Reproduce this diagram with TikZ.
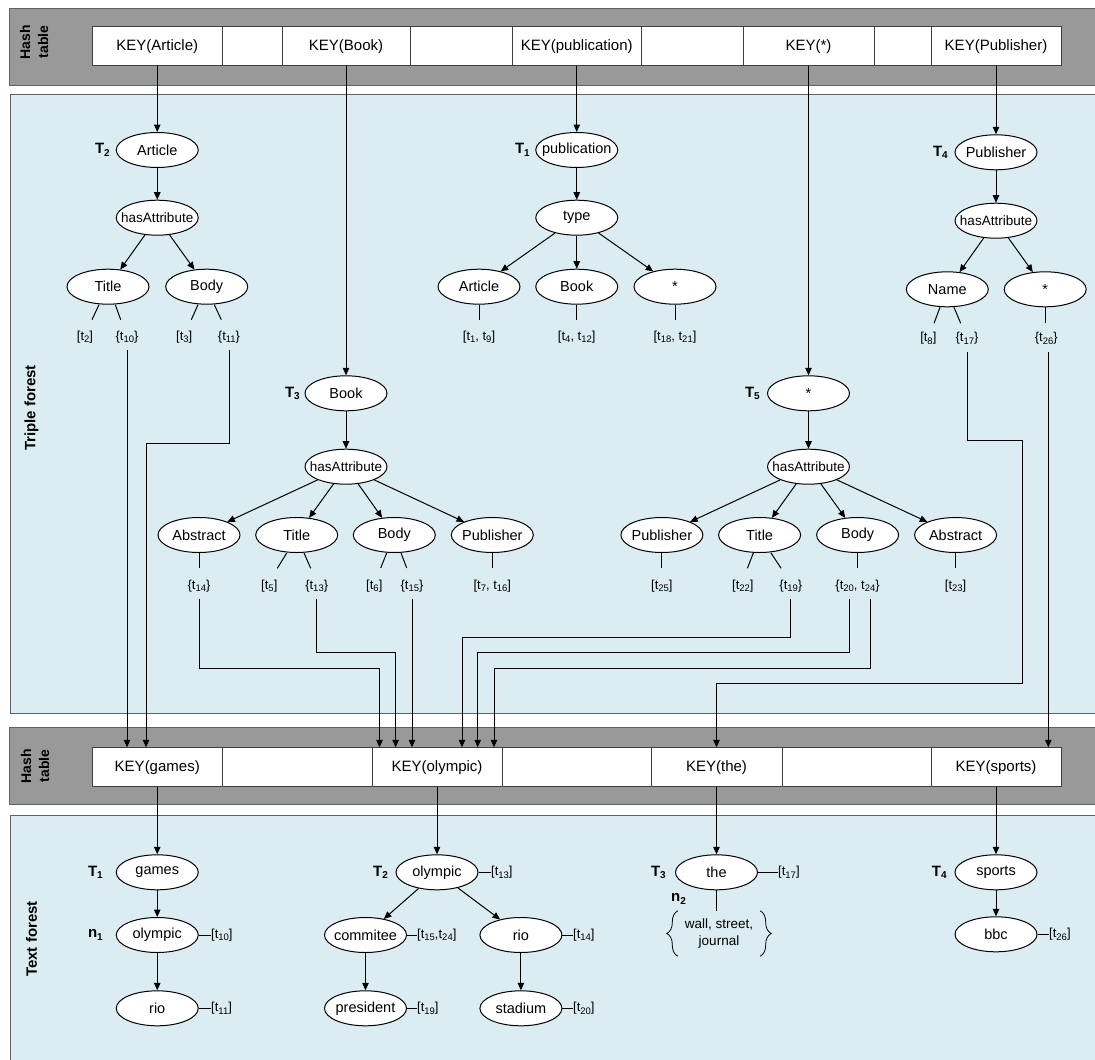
\documentclass[tikz,border=0pt]{standalone}
\usepackage{fontspec}
\setmainfont{Liberation Sans}
\usetikzlibrary{shapes.geometric,arrows.meta,decorations.pathreplacing,calc}
\definecolor{panelblue}{RGB}{219,237,243}
\definecolor{bandgray}{RGB}{153,153,153}
\definecolor{edgegray}{RGB}{90,100,105}
\newcommand\tsub[1]{\raisebox{-0.35ex}{\fontsize{9.5}{10}\selectfont #1}}
\newcommand\bsub[1]{\raisebox{-0.35ex}{\fontsize{10}{10}\selectfont\bfseries #1}}
\begin{document}
\begin{tikzpicture}[x=1pt,y=-1pt,
  ell/.style={ellipse,draw,line width=1pt,fill=white,minimum width=82pt,minimum height=35pt,inner sep=0pt,
    font=\fontsize{14.5}{16}\selectfont,
    execute at begin node={\hbox to 0pt\bgroup\hss},
    execute at end node={\hss\egroup}},
  hasat/.style={ell,font=\fontsize{13.5}{15}\selectfont},
  cell/.style={draw=black!75,line width=0.9pt,fill=white,minimum height=39pt,inner sep=0pt,font=\fontsize{15}{16}\selectfont},
  lbl/.style={inner sep=0pt,minimum height=26pt,font=\fontsize{13}{15}\selectfont},
  tlab/.style={inner sep=0pt,font=\fontsize{15}{17}\selectfont\bfseries},
  sidelab/.style={inner sep=0pt,rotate=90,align=center,font=\fontsize{15}{17}\selectfont\bfseries},
  hashlab/.style={inner sep=0pt,rotate=90,align=center,font=\fontsize{14}{18}\selectfont\bfseries},
  arr/.style={line width=1pt,-{Triangle[length=7.5pt,width=6.5pt]}},
  ln/.style={line width=1pt},
  brc/.style={line width=0.8pt,decorate,decoration={brace,amplitude=11pt}}
]
\useasboundingbox (0,0) rectangle (1095,1060);

% ---------- backgrounds ----------
\fill[bandgray] (9,8.5) rectangle (1095,85);
\draw[edgegray,line width=1pt] (1095,8.5) -- (9,8.5) -- (9,85) -- (1095,85);
\fill[panelblue] (10,94.3) rectangle (1095,713.3);
\draw[edgegray,line width=1pt] (1095,94.3) -- (10,94.3) -- (10,713.3) -- (1095,713.3);
\fill[bandgray] (9,727.3) rectangle (1095,804);
\draw[edgegray,line width=1pt] (1095,727.3) -- (9,727.3) -- (9,804) -- (1095,804);
\fill[panelblue] (10,815) rectangle (1095,1060);
\draw[edgegray,line width=1pt] (1095,815) -- (10,815) -- (10,1060);

\node[hashlab] (hash1) at (34,42) {Hash\\table};
\node[hashlab] (hash2) at (35,766) {Hash\\table};
\node[sidelab] (tripf) at (31.5,408) {Triple forest};
\node[sidelab] (textf) at (31.5,939) {Text forest};

% ---------- top hash table ----------
\node[cell,minimum width=130.5pt] (kart) at (157.25,46.2) {KEY(Article)};
\node[cell,minimum width=59.5pt] (ke1) at (252.25,46.2) {};
\node[cell,minimum width=128pt] (kbook) at (346,46.2) {KEY(Book)};
\node[cell,minimum width=102pt] (ke2) at (461,46.2) {};
\node[cell,minimum width=129.5pt] (kpub) at (576.75,46.2) {KEY(publication)};
\node[cell,minimum width=101.5pt] (ke3) at (692.25,46.2) {};
\node[cell,minimum width=131pt] (kstar) at (808.5,46.2) {KEY(*)};
\node[cell,minimum width=57pt] (ke4) at (902.5,46.2) {};
\node[cell,minimum width=130pt] (kpubl) at (996,46.2) {KEY(Publisher)};

% ---------- bottom hash table ----------
\node[cell,minimum width=130.5pt] (kg) at (157.25,767.2) {KEY(games)};
\node[cell,minimum width=149.5pt] (kb1) at (297.25,767.2) {};
\node[cell,minimum width=130pt] (ko) at (437,767.2) {KEY(olympic)};
\node[cell,minimum width=149pt] (kb2) at (576.5,767.2) {};
\node[cell,minimum width=131pt] (kthe) at (716.5,767.2) {KEY(the)};
\node[cell,minimum width=149pt] (kb3) at (856.5,767.2) {};
\node[cell,minimum width=130pt] (ks) at (996,767.2) {KEY(sports)};

% ---------- T2 ----------
\node[ell] (art) at (157.25,150) {Article};
\node[hasat] (ha2) at (157.25,217.7) {hasAttribute};
\node[ell] (ti2) at (108,286.7) {Title};
\node[ell] (bo2) at (206.7,286.7) {Body};
\node[tlab,anchor=east] (T2a) at (110,150) {T\bsub{2}};
\node[lbl] (l2) at (85,336.7) {[t\tsub{2}]};
\node[lbl] (l10) at (127,336.7) {\{t\tsub{10}\}};
\node[lbl] (l3) at (184.3,336.7) {[t\tsub{3}]};
\node[lbl] (l11) at (229,336.7) {\{t\tsub{11}\}};
\draw[arr] (kart) -- (art);
\draw[arr] (art) -- (ha2);
\draw[arr] (ha2) -- (ti2);
\draw[arr] (ha2) -- (bo2);
\draw[ln] ([xshift=-9pt]ti2.south) -- ++(-7,15);
\draw[ln] ([xshift=7.3pt]ti2.south) -- ++(5.4,15);
\draw[ln] ([xshift=-8.7pt]bo2.south) -- ++(-6.7,15);
\draw[ln] ([xshift=7.6pt]bo2.south) -- ++(7,15);

% ---------- T1 ----------
\node[ell] (pub) at (576.75,150) {publication};
\node[ell] (type) at (576.75,217.7) {type};
\node[ell] (art1) at (479,286.7) {Article};
\node[ell] (book1) at (576.75,286.7) {Book};
\node[ell] (star1) at (675,286.7) {*};
\node[tlab,anchor=east] (T1a) at (530,150) {T\bsub{1}};
\node[lbl] (l19a) at (479,336.7) {[t\tsub{1}, t\tsub{9}]};
\node[lbl] (l412) at (576.75,336.7) {[t\tsub{4}, t\tsub{12}]};
\node[lbl] (l1821) at (675,336.7) {[t\tsub{18}, t\tsub{21}]};
\draw[arr] (kpub) -- (pub);
\draw[arr] (pub) -- (type);
\draw[arr] (type) -- (art1);
\draw[arr] (type) -- (book1);
\draw[arr] (type) -- (star1);
\draw[ln] (art1.south) -- ++(0,15.5);
\draw[ln] (book1.south) -- ++(0,15.5);
\draw[ln] (star1.south) -- ++(0,15.5);

% ---------- T4 ----------
\node[ell] (publ) at (996,152.3) {Publisher};
\node[hasat] (ha4) at (996,220.7) {hasAttribute};
\node[ell] (name) at (947.3,289.3) {Name};
\node[ell] (star4) at (1045.2,289.3) {*};
\node[tlab,anchor=east] (T4a) at (948,152.3) {T\bsub{4}};
\node[lbl] (l8) at (928.3,338.3) {[t\tsub{8}]};
\node[lbl] (l17) at (967,338.3) {\{t\tsub{17}\}};
\node[lbl] (l26) at (1046.3,338.3) {\{t\tsub{26}\}};
\draw[arr] (kpubl) -- (publ);
\draw[arr] (publ) -- (ha4);
\draw[arr] (ha4) -- (name);
\draw[arr] (ha4) -- (star4);
\draw[ln] ([xshift=-7.3pt]name.south) -- ++(-6,16);
\draw[ln] ([xshift=6.7pt]name.south) -- ++(6.7,16);
\draw[ln] (star4.south) -- ++(0,16);

% ---------- T3 ----------
\node[ell] (book3) at (346,393.3) {Book};
\node[hasat] (ha3) at (346,466.7) {hasAttribute};
\node[ell] (abs3) at (199,535) {Abstract};
\node[ell] (ti3) at (296.7,535) {Title};
\node[ell] (bo3) at (394.3,535) {Body};
\node[ell] (pu3) at (492.3,535) {Publisher};
\node[tlab,anchor=east] (T3a) at (300,393.3) {T\bsub{3}};
\node[lbl] (l14) at (199,585.7) {\{t\tsub{14}\}};
\node[lbl] (l5) at (269.3,585.7) {[t\tsub{5}]};
\node[lbl] (l13) at (316.7,585.7) {\{t\tsub{13}\}};
\node[lbl] (l6) at (374.3,585.7) {[t\tsub{6}]};
\node[lbl] (l15) at (412,585.7) {\{t\tsub{15}\}};
\node[lbl] (l716) at (492.3,585.7) {[t\tsub{7}, t\tsub{16}]};
\draw[arr] (kbook) -- (book3);
\draw[arr] (book3) -- (ha3);
\draw[arr] (ha3) -- (abs3);
\draw[arr] (ha3) -- (ti3);
\draw[arr] (ha3) -- (bo3);
\draw[arr] (ha3) -- (pu3);
\draw[ln] (abs3.south) -- ++(0,15);
\draw[ln] ([xshift=-10pt]ti3.south) -- ++(-9.4,15.3);
\draw[ln] ([xshift=7.3pt]ti3.south) -- ++(6.7,15.3);
\draw[ln] ([xshift=-7.6pt]bo3.south) -- ++(-6,15);
\draw[ln] ([xshift=6.7pt]bo3.south) -- ++(5.7,15);
\draw[ln] (pu3.south) -- ++(0,15);

% ---------- T5 ----------
\node[ell] (star5) at (808.5,393.3) {*};
\node[hasat] (ha5) at (808.5,466.7) {hasAttribute};
\node[ell] (pu5) at (661.9,535) {Publisher};
\node[ell] (ti5) at (759.6,535) {Title};
\node[ell] (bo5) at (857.6,535) {Body};
\node[ell] (abs5) at (955.6,535) {Abstract};
\node[tlab,anchor=east] (T5a) at (760,393.3) {T\bsub{5}};
\node[lbl] (l25) at (661.9,585.7) {[t\tsub{25}]};
\node[lbl] (l22) at (742.9,585.7) {[t\tsub{22}]};
\node[lbl] (l19) at (790.9,585.7) {\{t\tsub{19}\}};
\node[lbl] (l2024) at (857.6,585.7) {\{t\tsub{20}, t\tsub{24}\}};
\node[lbl] (l23) at (955.6,585.7) {[t\tsub{23}]};
\draw[arr] (kstar) -- (star5);
\draw[arr] (star5) -- (ha5);
\draw[arr] (ha5) -- (pu5);
\draw[arr] (ha5) -- (ti5);
\draw[arr] (ha5) -- (bo5);
\draw[arr] (ha5) -- (abs5);
\draw[ln] (pu5.south) -- ++(0,15);
\draw[ln] ([xshift=-6.3pt]ti5.south) -- ++(-5.9,15.3);
\draw[ln] ([xshift=11.4pt]ti5.south) -- ++(10.1,15.3);
\draw[ln] (bo5.south) -- ++(0,15);
\draw[ln] (abs5.south) -- ++(0,15);

% ---------- routed connectors to the lower hash table ----------
\draw[arr] (l10.south) -- ([xshift=-30.25pt]kg.north);
\draw[arr] (l11.south) |- (146,443) -- ([xshift=-11.25pt]kg.north);
\draw[arr] (l14.south) |- (379.5,668) -- ([xshift=-57.5pt]ko.north);
\draw[arr] (l13.south) |- (395.6,652.3) -- ([xshift=-41.4pt]ko.north);
\draw[arr] (l15.south) -- ([xshift=-25pt]ko.north);
\draw[arr] (l19.south) |- (462,637.5) -- ([xshift=25pt]ko.north);
\draw[arr] ([xshift=-8pt]l2024.south) |- (477.7,652.3) -- ([xshift=40.7pt]ko.north);
\draw[arr] ([xshift=13pt]l2024.south) |- (494,668) -- ([xshift=57pt]ko.north);
\draw[arr] (l17.south) |- (1022,440) |- (716.5,683.3) -- (kthe.north);
\draw[arr] ([xshift=2pt]l26.south) -- ([xshift=52.3pt]ks.north);

% ---------- text forest ----------
\node[ell] (games) at (157.25,872.3) {games};
\node[ell] (ol1) at (157.25,935) {olympic};
\node[ell] (rio1) at (157.25,1008.3) {rio};
\node[tlab] (tf1) at (95.4,872.3) {T\bsub{1}};
\node[tlab] (nn1) at (95.4,935) {n\bsub{1}};
\node[lbl,anchor=west] (lt10) at (211,935) {[t\tsub{10}]};
\node[lbl,anchor=west] (lt11) at (211,1008.3) {[t\tsub{11}]};
\draw[arr] (kg) -- (games);
\draw[arr] (games) -- (ol1);
\draw[arr] (ol1) -- (rio1);
\draw[ln] (ol1.east) -- (lt10.west);
\draw[ln] (rio1.east) -- (lt11.west);

\node[ell] (o2) at (437,872.3) {olympic};
\node[tlab] (tf2) at (380.6,872.3) {T\bsub{2}};
\node[lbl,anchor=west] (lt13) at (491,872.3) {[t\tsub{13}]};
\node[ell] (com) at (365.5,935) {commitee};
\node[lbl,anchor=west] (lt1524) at (417,935) {[t\tsub{15},t\tsub{24}]};
\node[ell] (rio2) at (520.9,935) {rio};
\node[lbl,anchor=west] (lt14) at (573,935) {[t\tsub{14}]};
\node[ell] (pres) at (365.5,1008.3) {president};
\node[lbl,anchor=west] (lt19) at (417,1008.3) {[t\tsub{19}]};
\node[ell] (stad) at (520.9,1008.3) {stadium};
\node[lbl,anchor=west] (lt20) at (573,1008.3) {[t\tsub{20}]};
\draw[arr] (ko) -- (o2);
\draw[arr] (o2) -- (com);
\draw[arr] (o2) -- (rio2);
\draw[arr] (com) -- (pres);
\draw[arr] (rio2) -- (stad);
\draw[ln] (o2.east) -- (lt13.west);
\draw[ln] (com.east) -- (lt1524.west);
\draw[ln] (rio2.east) -- (lt14.west);
\draw[ln] (pres.east) -- (lt19.west);
\draw[ln] (stad.east) -- (lt20.west);

\node[ell] (the) at (716.5,872.3) {the};
\node[tlab] (tf3) at (658.4,872.3) {T\bsub{3}};
\node[lbl,anchor=west] (lt17) at (778,872.3) {[t\tsub{17}]};
\node[tlab] (nn2) at (678.6,899.3) {n\bsub{2}};
\node[inner sep=0pt,align=center,minimum width=82pt,minimum height=45pt,font=\fontsize{13.5}{17}\selectfont] (wsj) at (719,933.5) {wall, street,\\journal};
\draw[arr] (kthe) -- (the);
\draw[ln] (the.east) -- (lt17.west);
\draw[ln] (the.south) -- (the.south |- wsj.north);
\draw[brc] (wsj.south west) -- (wsj.north west);
\draw[brc] (wsj.north east) -- (wsj.south east);

\node[ell] (sports) at (996,872.3) {sports};
\node[tlab] (tf4) at (939.3,872.3) {T\bsub{4}};
\node[ell] (bbc) at (996,934.3) {bbc};
\node[lbl,anchor=west] (lt26) at (1049,934.3) {[t\tsub{26}]};
\draw[arr] (ks) -- (sports);
\draw[arr] (sports) -- (bbc);
\draw[ln] (bbc.east) -- (lt26.west);
\end{tikzpicture}
\end{document}
